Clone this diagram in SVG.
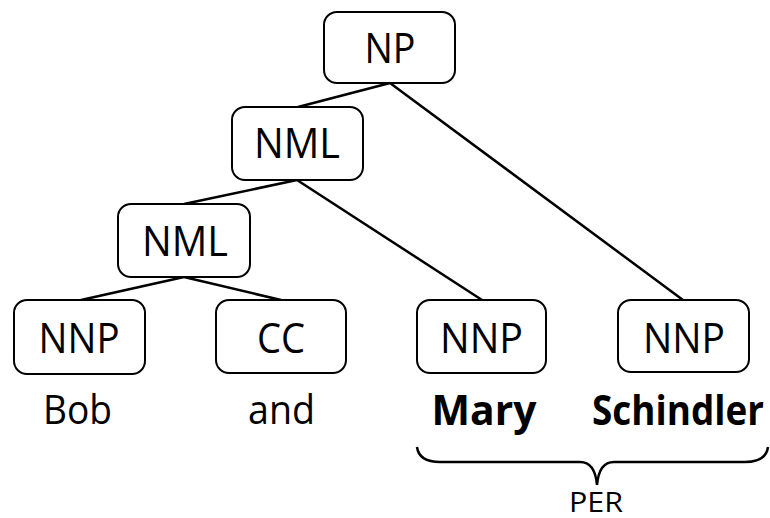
<svg xmlns="http://www.w3.org/2000/svg" width="770" height="518" viewBox="0 0 770 518">
  <style>
    .box { fill: #ffffff; stroke: #000000; stroke-width: 2; }
    .edge { stroke: #000000; stroke-width: 2.5; fill: none; }
    .tag { font-family: "Open Sans", "Liberation Sans", sans-serif; font-size: 42px; fill: #000000; text-anchor: middle; }
    .word { font-family: "Open Sans", "Liberation Sans", sans-serif; font-size: 41px; fill: #000000; text-anchor: middle; }
    .bold { font-weight: bold; }
    .small { font-family: "Open Sans", "Liberation Sans", sans-serif; font-size: 28px; fill: #000000; text-anchor: middle; }
  </style>
  <rect width="770" height="518" fill="#ffffff"/>

  <!-- tree edges -->
  <g id="edges">
    <line class="edge" x1="390" y1="83" x2="298" y2="107"/>
    <line class="edge" x1="390" y1="83" x2="683" y2="300"/>
    <line class="edge" x1="297" y1="180" x2="184" y2="204"/>
    <line class="edge" x1="297" y1="180" x2="482" y2="300"/>
    <line class="edge" x1="184" y1="277" x2="81" y2="300"/>
    <line class="edge" x1="184" y1="277" x2="281" y2="300"/>
  </g>

  <g id="np">
    <rect class="box" x="324" y="12" width="131" height="71" rx="13"/>
    <text class="tag" x="390" y="63" textLength="51" lengthAdjust="spacingAndGlyphs">NP</text>
  </g>
  <g id="nml-upper">
    <rect class="box" x="232" y="107" width="131" height="73" rx="13"/>
    <text class="tag" x="297" y="158" textLength="86" lengthAdjust="spacingAndGlyphs">NML</text>
  </g>
  <g id="nml-lower">
    <rect class="box" x="118" y="204" width="132" height="73" rx="13"/>
    <text class="tag" x="185" y="256" textLength="86" lengthAdjust="spacingAndGlyphs">NML</text>
  </g>
  <g id="nnp-bob">
    <rect class="box" x="14" y="300" width="131" height="74" rx="13"/>
    <text class="tag" x="79" y="353" textLength="81" lengthAdjust="spacingAndGlyphs">NNP</text>
  </g>
  <g id="cc-and">
    <rect class="box" x="216" y="300" width="130" height="73" rx="13"/>
    <text class="tag" x="281" y="353" textLength="48" lengthAdjust="spacingAndGlyphs">CC</text>
  </g>
  <g id="nnp-mary">
    <rect class="box" x="417" y="300" width="129" height="73" rx="13"/>
    <text class="tag" x="481.5" y="353" textLength="83" lengthAdjust="spacingAndGlyphs">NNP</text>
  </g>
  <g id="nnp-schindler">
    <rect class="box" x="618" y="300" width="131" height="72" rx="13"/>
    <text class="tag" x="684" y="353" textLength="82" lengthAdjust="spacingAndGlyphs">NNP</text>
  </g>

  <!-- tokens -->
  <g id="tokens">
    <text class="word" x="77.5" y="424" textLength="69" lengthAdjust="spacingAndGlyphs">Bob</text>
    <text class="word" x="281.5" y="424" textLength="67" lengthAdjust="spacingAndGlyphs">and</text>
    <text class="word bold" x="484" y="425" textLength="105" lengthAdjust="spacingAndGlyphs">Mary</text>
    <text class="word bold" x="678" y="425" textLength="172" lengthAdjust="spacingAndGlyphs">Schindler</text>
  </g>

  <!-- entity span brace -->
  <g id="per-span">
    <path class="edge" stroke-width="2" d="M417,447 Q419,462 440,462 L580,462 Q595,462 597,485 M597,485 Q599,462 614,462 L745,462 Q766,462 768,447"/>
    <text class="small" x="596" y="512" textLength="54" lengthAdjust="spacingAndGlyphs">PER</text>
  </g>
</svg>
